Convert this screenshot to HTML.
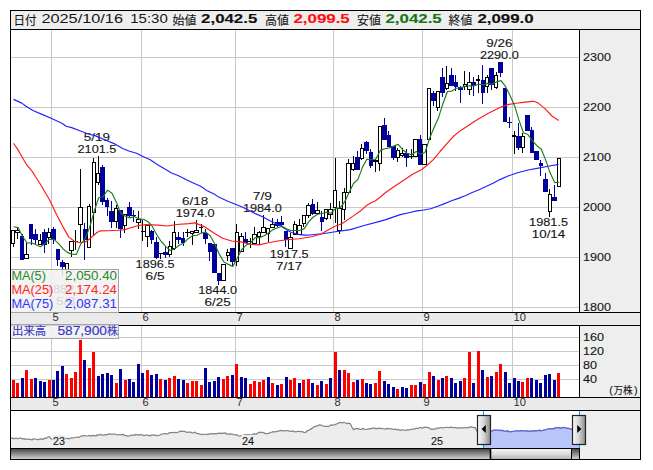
<!DOCTYPE html>
<html><head><meta charset="utf-8"><title>chart</title><style>html,body{margin:0;padding:0;background:#fff}svg{display:block}</style></head><body>
<svg width="653" height="470" viewBox="0 0 653 470" font-family="'Liberation Sans', sans-serif">
<rect x="0" y="0" width="653" height="470" fill="#fff"/>
<rect x="10" y="10" width="631" height="20" fill="#eeeeee"/>
<rect x="580" y="30" width="60" height="430" fill="#eeeeee"/>
<rect x="10" y="312" width="631" height="14" fill="#eaeaea"/>
<rect x="10" y="397" width="631" height="14" fill="#eaeaea"/>
<path d="M11 57.5H579M11 107.5H579M11 157.5H579M11 207.5H579M11 257.5H579M11 307.5H579M11 337.5H579M11 351.5H579M11 365.5H579M11 379.5H579M51.5 30V312M51.5 326V397M141.5 30V312M141.5 326V397M235.5 30V312M235.5 326V397M333.5 30V312M333.5 326V397M422.5 30V312M422.5 326V397M512.5 30V312M512.5 326V397" stroke="#c9c9c9" stroke-width="1" fill="none" shape-rendering="crispEdges"/>
<g shape-rendering="crispEdges" fill="none" stroke-width="1">
<path d="M13.5 244V247M17.5 227V230M17.5 233V239M26.5 242V254M40.5 234V240M48.5 228V232M48.5 238V244M66.5 270V281M71.5 251V257M75.5 230V250M80.5 169V207M80.5 225V242M89.5 204V206M93.5 158V162M93.5 213V235M98.5 156V173M98.5 183V185M116.5 205V208M116.5 222V228M124.5 226V233M138.5 211V219M138.5 223V229M142.5 220V241M147.5 224V225M147.5 237V247M160.5 253V259M169.5 241V246M169.5 255V257M174.5 221V232M174.5 249V250M187.5 229V237M192.5 234V245M196.5 220V230M201.5 224V233M227.5 249V252M227.5 256V261M236.5 224V232M236.5 262V266M241.5 233V236M250.5 238V248M254.5 227V234M259.5 231V232M259.5 237V245M263.5 215V227M268.5 234V242M272.5 218V224M290.5 233V237M294.5 221V224M299.5 219V225M303.5 224V227M308.5 203V205M308.5 216V218M317.5 202V210M326.5 219V220M330.5 203V209M330.5 215V219M335.5 158V190M335.5 208V223M339.5 201V208M339.5 231V234M344.5 188V192M344.5 210V220M348.5 159V163M353.5 156V163M353.5 170V171M361.5 144V148M361.5 159V160M375.5 159V160M375.5 162V172M379.5 164V171M397.5 148V150M397.5 158V162M402.5 148V153M402.5 156V157M411.5 149V159M437.5 108V111M446.5 66V83M446.5 89V90M464.5 71V84M464.5 87V90M469.5 72V82M469.5 90V95M478.5 75V79M478.5 81V93M487.5 75V77M487.5 87V93M496.5 72V75M496.5 88V89M514.5 131V135M514.5 137V154M522.5 133V136M522.5 148V153M549.5 189V194M549.5 212V217" stroke="#000"/>
<path d="M22.5 234V236M31.5 239V245M35.5 229V234M35.5 240V244M44.5 229V232M44.5 245V253M53.5 227V229M53.5 240V244M57.5 260V266M62.5 260V262M62.5 267V276M84.5 223V229M84.5 240V260M102.5 165V167M102.5 202V205M107.5 198V200M107.5 207V216M111.5 201V211M111.5 222V228M120.5 229V238M129.5 202V207M129.5 216V217M133.5 210V222M151.5 230V231M151.5 240V244M156.5 237V242M156.5 258V259M165.5 247V252M165.5 255V258M178.5 232V237M178.5 240V244M183.5 232V238M183.5 243V246M205.5 229V233M205.5 239V244M209.5 252V261M218.5 281V285M232.5 262V266M245.5 232V239M277.5 219V222M277.5 226V227M281.5 216V222M281.5 225V227M285.5 240V247M312.5 199V204M312.5 214V215M321.5 211V217M321.5 222V231M357.5 151V157M366.5 141V142M366.5 151V154M370.5 149V152M370.5 166V168M384.5 118V125M388.5 131V135M393.5 158V160M406.5 149V153M406.5 158V167M420.5 135V139M433.5 91V93M433.5 101V106M442.5 68V77M442.5 93V97M451.5 68V75M455.5 75V82M455.5 87V91M460.5 86V87M460.5 90V103M473.5 77V82M473.5 86V96M482.5 65V80M482.5 93V104M491.5 85V90M500.5 73V77M509.5 117V128M518.5 123V136M518.5 148V150M531.5 127V130M540.5 160V163M540.5 166V176M545.5 173V179M554.5 185V197" stroke="#00009a"/>
<path d="M11.5 230.5H14.5V243.5H11.5zM15.5 230.5H19.5V232.5H15.5zM24.5 254.5H28.5V258.5H24.5zM38.5 240.5H41.5V244.5H38.5zM47.5 232.5H50.5V237.5H47.5zM65.5 263.5H68.5V269.5H65.5zM69.5 241.5H73.5V250.5H69.5zM78.5 207.5H82.5V224.5H78.5zM87.5 206.5H90.5V247.5H87.5zM92.5 162.5H95.5V212.5H92.5zM96.5 173.5H99.5V182.5H96.5zM114.5 208.5H117.5V221.5H114.5zM123.5 214.5H126.5V225.5H123.5zM136.5 219.5H140.5V222.5H136.5zM145.5 225.5H149.5V236.5H145.5zM168.5 246.5H171.5V254.5H168.5zM172.5 232.5H175.5V248.5H172.5zM190.5 231.5H193.5V233.5H190.5zM194.5 230.5H198.5V232.5H194.5zM221.5 264.5H225.5V280.5H221.5zM226.5 252.5H229.5V255.5H226.5zM235.5 232.5H238.5V261.5H235.5zM239.5 236.5H243.5V251.5H239.5zM252.5 234.5H256.5V243.5H252.5zM257.5 232.5H260.5V236.5H257.5zM261.5 227.5H265.5V232.5H261.5zM266.5 228.5H269.5V233.5H266.5zM270.5 224.5H274.5V227.5H270.5zM288.5 237.5H292.5V248.5H288.5zM293.5 224.5H296.5V234.5H293.5zM297.5 225.5H301.5V234.5H297.5zM302.5 215.5H305.5V223.5H302.5zM306.5 205.5H310.5V215.5H306.5zM315.5 210.5H319.5V213.5H315.5zM324.5 209.5H327.5V218.5H324.5zM328.5 209.5H332.5V214.5H328.5zM333.5 190.5H336.5V207.5H333.5zM337.5 208.5H341.5V230.5H337.5zM342.5 192.5H345.5V209.5H342.5zM346.5 163.5H350.5V192.5H346.5zM351.5 163.5H354.5V169.5H351.5zM360.5 148.5H363.5V158.5H360.5zM373.5 160.5H377.5V161.5H373.5zM378.5 126.5H381.5V163.5H378.5zM396.5 150.5H399.5V157.5H396.5zM400.5 153.5H403.5V155.5H400.5zM413.5 139.5H417.5V156.5H413.5zM422.5 144.5H426.5V164.5H422.5zM427.5 88.5H430.5V139.5H427.5zM436.5 91.5H439.5V107.5H436.5zM445.5 83.5H448.5V88.5H445.5zM463.5 84.5H466.5V86.5H463.5zM467.5 82.5H471.5V89.5H467.5zM476.5 79.5H479.5V80.5H476.5zM485.5 77.5H488.5V86.5H485.5zM494.5 75.5H497.5V87.5H494.5zM512.5 135.5H515.5V136.5H512.5zM521.5 136.5H524.5V147.5H521.5zM548.5 194.5H551.5V211.5H548.5zM557.5 158.5H560.5V186.5H557.5z" stroke="#000" fill="#fff"/>
<path d="M74 241.5H78M141 231.5H145M159 253.5H163M185 232.5H190M199 227.5H203M248 241.5H252M409 156.5H413" stroke="#000"/>
<path d="M132 215.5H136M507 122.5H512" stroke="#00009a"/>
</g>
<path d="M20 236H24V260H20zM29 224H33V239H29zM33 234H38V240H33zM42 232H47V245H42zM51 229H56V240H51zM56 249H60V260H56zM60 262H65V267H60zM83 229H87V240H83zM100 167H105V202H100zM105 200H109V207H105zM109 211H114V222H109zM118 210H123V229H118zM127 207H132V216H127zM150 231H154V240H150zM154 242H159V258H154zM163 252H168V255H163zM176 237H181V240H176zM181 238H185V243H181zM203 233H208V239H203zM208 243H212V252H208zM212 244H217V273H212zM217 273H221V281H217zM230 248H235V262H230zM244 239H248V243H244zM275 222H279V226H275zM279 222H284V225H279zM284 231H288V240H284zM311 204H315V214H311zM320 217H324V222H320zM355 157H360V170H355zM364 142H369V151H364zM369 152H373V166H369zM382 125H387V140H382zM387 135H391V147H387zM391 146H396V158H391zM404 153H409V158H404zM418 139H422V165H418zM431 93H436V101H431zM440 77H445V93H440zM449 75H454V86H449zM454 82H458V87H454zM458 87H463V90H458zM472 82H476V86H472zM481 80H485V93H481zM489 68H494V85H489zM498 62H503V73H498zM503 88H507V122H503zM516 136H521V148H516zM525 115H530V131H525zM530 130H534V153H530zM534 151H539V160H534zM539 163H543V166H539zM543 179H548V192H543zM552 197H557V201H552z" fill="#00009a" shape-rendering="crispEdges"/>
<text x="83.8" y="141.1" font-size="11.5" fill="#151515" textLength="26.2" lengthAdjust="spacingAndGlyphs" stroke="#151515" stroke-width="0.12">5/19</text>
<text x="77.5" y="153.1" font-size="11.5" fill="#151515" textLength="38.9" lengthAdjust="spacingAndGlyphs" stroke="#151515" stroke-width="0.12">2101.5</text>
<text x="182.1" y="204.8" font-size="11.5" fill="#151515" textLength="26.2" lengthAdjust="spacingAndGlyphs" stroke="#151515" stroke-width="0.12">6/18</text>
<text x="175.8" y="216.8" font-size="11.5" fill="#151515" textLength="38.9" lengthAdjust="spacingAndGlyphs" stroke="#151515" stroke-width="0.12">1974.0</text>
<text x="252.8" y="199.8" font-size="11.5" fill="#151515" textLength="19.1" lengthAdjust="spacingAndGlyphs" stroke="#151515" stroke-width="0.12">7/9</text>
<text x="242.9" y="211.8" font-size="11.5" fill="#151515" textLength="38.9" lengthAdjust="spacingAndGlyphs" stroke="#151515" stroke-width="0.12">1984.0</text>
<text x="486.2" y="46.8" font-size="11.5" fill="#151515" textLength="26.2" lengthAdjust="spacingAndGlyphs" stroke="#151515" stroke-width="0.12">9/26</text>
<text x="479.9" y="58.8" font-size="11.5" fill="#151515" textLength="38.9" lengthAdjust="spacingAndGlyphs" stroke="#151515" stroke-width="0.12">2290.0</text>
<text x="135.6" y="268.1" font-size="11.5" fill="#151515" textLength="38.9" lengthAdjust="spacingAndGlyphs" stroke="#151515" stroke-width="0.12">1896.5</text>
<text x="145.5" y="280.1" font-size="11.5" fill="#151515" textLength="19.1" lengthAdjust="spacingAndGlyphs" stroke="#151515" stroke-width="0.12">6/5</text>
<text x="198.2" y="294.3" font-size="11.5" fill="#151515" textLength="38.9" lengthAdjust="spacingAndGlyphs" stroke="#151515" stroke-width="0.12">1844.0</text>
<text x="204.5" y="306.3" font-size="11.5" fill="#151515" textLength="26.2" lengthAdjust="spacingAndGlyphs" stroke="#151515" stroke-width="0.12">6/25</text>
<text x="269.7" y="257.6" font-size="11.5" fill="#151515" textLength="38.9" lengthAdjust="spacingAndGlyphs" stroke="#151515" stroke-width="0.12">1917.5</text>
<text x="276" y="269.6" font-size="11.5" fill="#151515" textLength="26.2" lengthAdjust="spacingAndGlyphs" stroke="#151515" stroke-width="0.12">7/17</text>
<text x="529.1" y="225.6" font-size="11.5" fill="#151515" textLength="38.9" lengthAdjust="spacingAndGlyphs" stroke="#151515" stroke-width="0.12">1981.5</text>
<text x="531.8" y="237.6" font-size="11.5" fill="#151515" textLength="33.4" lengthAdjust="spacingAndGlyphs" stroke="#151515" stroke-width="0.12">10/14</text>
<text x="46.2" y="292.9" font-size="11.5" fill="#151515" textLength="38.9" lengthAdjust="spacingAndGlyphs" stroke="#151515" stroke-width="0.12">1852.5</text>
<text x="56" y="304.9" font-size="11.5" fill="#151515" textLength="19.1" lengthAdjust="spacingAndGlyphs" stroke="#151515" stroke-width="0.12">5/8</text>
<path d="M13.5 99.4L21.8 103.1L26 106.3L32.9 110.5L42.6 114.6L52.2 118.8L61.9 123.2L66.1 126.2L71.6 127.6L79.9 130.8L88.2 134L95 135.6L106.1 140.2L115.7 144.4L122.7 148.5L129.6 151.3L136.5 153.3L143.4 156.8L150.3 159.8L157.2 164.4L164.1 168.6L171 172.7L178 175.5L186.9 180L193.8 183.2L200.7 186.3L207.7 191.1L214.6 194.3L218.7 197.1L228.4 201.5L235.3 204.2L242.2 207L249.1 210.5L256 213.9L263 217L269.9 220.8L280.3 225.8L286.9 230L291.4 232.5L299.7 234.6L305 235.1L310 235L316 234.3L322.7 233.8L333.7 232L350.3 229.6L364.1 225.5L378.8 221.6L385 219.9L400.3 214.6L410 212.5L416.9 210.9L423.8 210L430.7 208.7L437.7 206.3L444.6 203.6L451.5 200.8L458.4 198.4L465.3 195.7L472.2 192.5L479.1 189.7L486 186.5L493 183.2L499.9 179.6L508 176L517.6 172.8L528 170L538.4 168.1L548 166.2L558.5 164.4" fill="none" stroke="#2020ff" stroke-width="1.15" stroke-linejoin="round"/>
<path d="M13.5 143.2L17.7 149.4L21.8 156.5L26 163.8L32.2 171.4L35.7 177L39.8 183.2L44.6 191.5L49.5 199.8L52.9 206.7L56.4 214.3L63.3 227.4L68.8 237.1L74.4 241.3L79.9 242.7L85.4 242L91 237.8L96.9 232.5L100.1 230.9L108.4 230.7L118 230.3L125 229.6L129 228.2L137.4 225.7L145.9 224.6L158.1 225.1L167.3 226L176.5 224.5L188.8 223.6L195 222.9L204.2 226.6L213.4 232.7L222.6 238.2L231.8 241L240.9 241.9L250.1 244.3L259.3 244.9L268.5 242.8L277.7 241L286.9 239.7L299.1 238.8L311.4 236.7L320.6 234.2L329.8 229L335 226.3L341.9 223.7L352.3 216.6L360.4 211L365.9 206.1L370.9 202.7L375.2 201L380 197.2L385 193L394.2 186.5L403.4 180.4L412.6 174.2L421.8 169.5L427.4 165L433.6 159.4L440 151.5L446.9 143.6L453.8 136L460.7 130.4L467.7 126L474.6 121.2L481.5 117.2L488.4 113.3L495.3 109.8L502.2 106.6L509.1 104.4L516 103.2L523 102.4L529.9 101.6L533.5 101.3L536.6 102.3L538 102.9L544.9 108.6L551.9 116L558.7 120.6" fill="none" stroke="#ff1a1a" stroke-width="1.15" stroke-linejoin="round"/>
<path d="M13.6 226.7L18.1 227.6L22.6 236.5L27.1 243L31.6 242.8L36 244.7L40.5 246.7L45 243.6L49.4 239.2L53.9 239.4L58.4 243.4L62.9 248.7L67.3 252.4L71.8 254.1L76.3 254.5L80.7 244.1L85.2 238.6L89.7 227.1L94.2 211.3L98.6 197.8L103.1 196.7L107.6 190.1L112 193.3L116.5 202.5L121 213.6L125.5 216.2L129.9 217.9L134.4 216.6L138.9 218.9L143.3 219.3L147.8 221.5L152.3 226.4L156.8 234.8L161.2 241.5L165.7 246.3L170.2 250.5L174.6 248.9L179.1 245.3L183.6 243.3L188.1 238.7L192.5 235.6L197 235.3L201.5 232.9L205.9 232.1L210.4 236L214.9 244.3L219.4 254.4L223.8 261.8L228.3 264.4L232.8 266.4L237.2 258.3L241.7 249.5L246.2 245.1L250.7 242.9L255.1 237.6L259.6 237.6L264.1 235.8L268.5 233L273 229.6L277.5 227.8L282 226.3L286.4 228.8L290.9 230.5L295.4 230.5L299.8 230.5L304.3 228.6L308.8 221.6L313.3 217L317.7 214.2L322.2 213.5L326.7 212.2L331.1 213.1L335.6 208.4L340.1 207.9L344.6 201.9L349 192.8L353.5 183.5L358 179.4L362.4 167.4L366.9 159.2L371.4 159.7L375.9 159L380.3 150.4L384.8 148.7L389.3 147.9L393.7 146.1L398.2 144.3L402.7 149.7L407.1 153.2L411.6 155L416.1 151.5L420.6 154.3L425 152.5L429.5 138.6L434 127.7L438.4 118.1L442.9 103.7L447.4 91.5L451.9 91.1L456.3 88.2L460.8 87.8L465.3 86.1L469.7 85.8L474.2 85.8L478.7 84.2L483.2 84.8L487.6 83.4L492.1 84L496.6 81.9L501 80.6L505.5 86.4L510 95.4L514.5 105.4L518.9 119.9L523.4 132.7L527.9 134.5L532.3 140.7L536.8 145.7L541.3 149.3L545.8 160.4L550.2 173.1L554.7 182.6L559.2 182.2" fill="none" stroke="#1c7c1c" stroke-width="1.15" stroke-linejoin="round"/>
<text x="583" y="60.5" font-size="11.5" fill="#151515" textLength="28" lengthAdjust="spacingAndGlyphs" stroke="#151515" stroke-width="0.12">2300</text>
<text x="583" y="110.5" font-size="11.5" fill="#151515" textLength="28" lengthAdjust="spacingAndGlyphs" stroke="#151515" stroke-width="0.12">2200</text>
<text x="583" y="160.5" font-size="11.5" fill="#151515" textLength="28" lengthAdjust="spacingAndGlyphs" stroke="#151515" stroke-width="0.12">2100</text>
<text x="583" y="210.5" font-size="11.5" fill="#151515" textLength="28" lengthAdjust="spacingAndGlyphs" stroke="#151515" stroke-width="0.12">2000</text>
<text x="583" y="260.5" font-size="11.5" fill="#151515" textLength="28" lengthAdjust="spacingAndGlyphs" stroke="#151515" stroke-width="0.12">1900</text>
<text x="583" y="310.5" font-size="11.5" fill="#151515" textLength="28" lengthAdjust="spacingAndGlyphs" stroke="#151515" stroke-width="0.12">1800</text>
<text x="52.5" y="321" font-size="10.5" fill="#2a2a2a" textLength="6.2" lengthAdjust="spacingAndGlyphs">5</text>
<text x="142.5" y="321" font-size="10.5" fill="#2a2a2a" textLength="6.2" lengthAdjust="spacingAndGlyphs">6</text>
<text x="236.5" y="321" font-size="10.5" fill="#2a2a2a" textLength="6.2" lengthAdjust="spacingAndGlyphs">7</text>
<text x="334.5" y="321" font-size="10.5" fill="#2a2a2a" textLength="6.2" lengthAdjust="spacingAndGlyphs">8</text>
<text x="423.5" y="321" font-size="10.5" fill="#2a2a2a" textLength="6.2" lengthAdjust="spacingAndGlyphs">9</text>
<text x="513.5" y="321" font-size="10.5" fill="#2a2a2a" textLength="12.4" lengthAdjust="spacingAndGlyphs">10</text>
<text x="52.5" y="406" font-size="10.5" fill="#2a2a2a" textLength="6.2" lengthAdjust="spacingAndGlyphs">5</text>
<text x="142.5" y="406" font-size="10.5" fill="#2a2a2a" textLength="6.2" lengthAdjust="spacingAndGlyphs">6</text>
<text x="236.5" y="406" font-size="10.5" fill="#2a2a2a" textLength="6.2" lengthAdjust="spacingAndGlyphs">7</text>
<text x="334.5" y="406" font-size="10.5" fill="#2a2a2a" textLength="6.2" lengthAdjust="spacingAndGlyphs">8</text>
<text x="423.5" y="406" font-size="10.5" fill="#2a2a2a" textLength="6.2" lengthAdjust="spacingAndGlyphs">9</text>
<text x="513.5" y="406" font-size="10.5" fill="#2a2a2a" textLength="12.4" lengthAdjust="spacingAndGlyphs">10</text>
<g shape-rendering="crispEdges">
<path d="M12 380h3V397h-3zM16 383h3V397h-3zM25 370h3V397h-3zM30 379h3V397h-3zM48 380h3V397h-3zM65 374h3V397h-3zM70 378h3V397h-3zM74 372h3V397h-3zM79 340h3V397h-3zM88 368h3V397h-3zM92 352h3V397h-3zM115 383h3V397h-3zM124 380h3V397h-3zM146 370h3V397h-3zM159 379h3V397h-3zM168 378h3V397h-3zM173 376h3V397h-3zM186 383h3V397h-3zM191 381h3V397h-3zM195 381h3V397h-3zM200 385h3V397h-3zM222 379h3V397h-3zM226 376h3V397h-3zM235 364h3V397h-3zM249 384h3V397h-3zM253 381h3V397h-3zM258 382h3V397h-3zM262 380h3V397h-3zM271 383h3V397h-3zM280 384h3V397h-3zM289 380h3V397h-3zM293 378h3V397h-3zM302 380h3V397h-3zM307 379h3V397h-3zM316 385h3V397h-3zM325 384h3V397h-3zM334 352h3V397h-3zM343 370h3V397h-3zM347 373h3V397h-3zM352 382h3V397h-3zM361 379h3V397h-3zM374 383h3V397h-3zM378 371h3V397h-3zM396 389h3V397h-3zM410 385h3V397h-3zM414 385h3V397h-3zM423 384h3V397h-3zM428 372h3V397h-3zM437 380h3V397h-3zM445 376h3V397h-3zM463 378h3V397h-3zM468 352h3V397h-3zM477 351h3V397h-3zM486 377h3V397h-3zM495 372h3V397h-3zM499 364h3V397h-3zM521 382h3V397h-3zM526 378h3V397h-3zM557 373h3V397h-3z" fill="#ff0000"/>
<path d="M21 378h3V397h-3zM34 378h3V397h-3zM39 381h3V397h-3zM43 382h3V397h-3zM52 380h3V397h-3zM56 371h3V397h-3zM61 366h3V397h-3zM83 360h3V397h-3zM97 376h3V397h-3zM101 374h3V397h-3zM106 373h3V397h-3zM110 375h3V397h-3zM119 369h3V397h-3zM128 379h3V397h-3zM132 382h3V397h-3zM137 364h3V397h-3zM141 373h3V397h-3zM150 375h3V397h-3zM155 374h3V397h-3zM164 380h3V397h-3zM177 379h3V397h-3zM182 380h3V397h-3zM204 368h3V397h-3zM208 382h3V397h-3zM213 381h3V397h-3zM217 377h3V397h-3zM231 375h3V397h-3zM240 377h3V397h-3zM244 378h3V397h-3zM267 377h3V397h-3zM276 385h3V397h-3zM285 377h3V397h-3zM298 383h3V397h-3zM311 383h3V397h-3zM320 381h3V397h-3zM329 378h3V397h-3zM338 370h3V397h-3zM356 380h3V397h-3zM365 383h3V397h-3zM369 384h3V397h-3zM383 381h3V397h-3zM387 384h3V397h-3zM392 387h3V397h-3zM401 387h3V397h-3zM405 388h3V397h-3zM419 382h3V397h-3zM432 376h3V397h-3zM441 378h3V397h-3zM450 378h3V397h-3zM454 383h3V397h-3zM459 381h3V397h-3zM472 383h3V397h-3zM481 370h3V397h-3zM490 376h3V397h-3zM504 372h3V397h-3zM508 383h3V397h-3zM513 378h3V397h-3zM517 381h3V397h-3zM530 378h3V397h-3zM535 380h3V397h-3zM539 383h3V397h-3zM544 375h3V397h-3zM548 374h3V397h-3zM553 380h3V397h-3z" fill="#00009a"/>
</g>
<text x="583" y="340.5" font-size="11.5" fill="#151515" textLength="21" lengthAdjust="spacingAndGlyphs" stroke="#151515" stroke-width="0.12">160</text>
<text x="583" y="354.5" font-size="11.5" fill="#151515" textLength="21" lengthAdjust="spacingAndGlyphs" stroke="#151515" stroke-width="0.12">120</text>
<text x="583" y="368.5" font-size="11.5" fill="#151515" textLength="14" lengthAdjust="spacingAndGlyphs" stroke="#151515" stroke-width="0.12">80</text>
<text x="583" y="382.5" font-size="11.5" fill="#151515" textLength="14" lengthAdjust="spacingAndGlyphs" stroke="#151515" stroke-width="0.12">40</text>
<text x="609.3" y="393.6" font-size="10.5" fill="#151515" textLength="3.6" lengthAdjust="spacingAndGlyphs" stroke="#151515" stroke-width="0.1">(</text>
<text x="613.4" y="394" font-size="9.7" fill="#151515" textLength="19.3" lengthAdjust="spacingAndGlyphs" stroke="#151515" stroke-width="0.1" font-family="'Liberation Sans', 'Noto Sans CJK JP', sans-serif">万株</text>
<text x="634" y="393.6" font-size="10.5" fill="#151515" textLength="3.6" lengthAdjust="spacingAndGlyphs" stroke="#151515" stroke-width="0.1">)</text>
<path d="M11.1 438.5L12.7 438.2L14.3 438.8L15.9 438L17.5 438.6L19.1 438.4L20.7 438L22.3 438.9L23.9 438.6L25.5 439.4L27.1 439.1L28.7 439.1L30.3 439.4L31.9 439.9L33.5 438.9L35.1 439L36.7 439.4L38.3 439.7L39.9 439.1L41.5 438.8L43.1 439.4L44.7 438.1L46.3 438.4L47.9 436.9L49.5 436.8L51.1 438.9L52.7 439.1L54.3 439.7L55.9 438.8L57.5 439.3L59.1 439.3L60.7 438.9L62.3 439.1L63.9 438.4L65.5 438.4L67.1 438.4L68.7 438.8L70.3 438.2L71.9 437.8L73.5 437.9L75.1 437.5L76.7 437L78.3 437.3L79.9 436.8L81.5 435.8L83.1 435.9L84.7 435.5L86.3 436L87.9 435.9L89.5 435.4L91.1 436.3L92.7 435.3L94.3 435.6L95.9 435.9L97.5 434.9L99.1 435.2L100.7 434.4L102.3 435L103.9 435L105.5 434.6L107.1 434.8L108.7 433.9L110.3 434.2L111.9 434L113.5 434L115.1 434L116.7 434.7L118.3 435L119.9 434.5L121.5 434.9L123.1 434.4L124.7 435.4L126.3 435.6L127.9 436.2L129.5 435.9L131.1 435.1L132.7 435.1L134.3 435.4L135.9 434.4L137.5 435L139.1 434.7L140.7 434.8L142.3 434.8L143.9 435.8L145.5 435.1L147.1 435.2L148.7 435.3L150.3 435.9L151.9 434.8L153.5 435.2L155.1 435.2L156.7 435.6L158.3 435.4L159.9 435.1L161.5 434L163.1 433.9L164.7 433.5L166.3 433.9L167.9 433.8L169.5 432.6L171.1 432.5L172.7 432.5L174.3 432.4L175.9 432.6L177.5 432.5L179.1 431.7L180.7 431.1L182.3 431.3L183.9 431.3L185.5 431.7L187.1 432.4L188.7 432.2L190.3 432.2L191.9 432.6L193.5 432.8L195.1 432.2L196.7 433.5L198.3 433.6L199.9 434.1L201.5 434.4L203.1 434.3L204.7 434.5L206.3 434L207.9 434.6L209.5 433.8L211.1 433.7L212.7 433.8L214.3 433.6L215.9 433.8L217.5 433.3L219.1 433.2L220.7 433.3L222.3 433.1L223.9 433.4L225.5 432.9L227.1 434.2L228.7 434.2L230.3 433.8L231.9 434.2L233.5 434.6L235.1 434.9L236.7 434.7L238.3 435.8L239.9 436.1L241.5 435.5L243.1 435.4L244.7 434.8L246.3 434.7L247.9 434.9L249.5 434.7L251.1 435.3L252.7 434.3L254.3 433.7L255.9 434.4L257.5 433.3L259.1 432.2L260.7 432.7L262.3 432.2L263.9 432.9L265.5 433.6L267.1 433.6L268.7 433.4L270.3 432.5L271.9 432.2L273.5 431.6L275.1 432L276.7 431.3L278.3 431.3L279.9 430.6L281.5 430.3L283.1 430.9L284.7 430.9L286.3 430.6L287.9 430.7L289.5 431.1L291.1 431.3L292.7 430.9L294.3 431.7L295.9 431.8L297.5 431.4L299.1 431.4L300.7 431.7L302.3 431.7L303.9 432.3L305.5 432.5L307.1 430.8L308.7 430.3L310.3 429.4L311.9 428.4L313.5 427.1L315.1 426.4L316.7 425.9L318.3 425.3L319.9 424.8L321.5 425.3L323.1 426L324.7 426.4L326.3 426.3L327.9 426.3L329.5 426.1L331.1 424.8L332.7 425.1L334.3 424.9L335.9 424.2L337.5 423.6L339.1 422.8L340.7 422.3L342.3 423L343.9 422.3L345.5 423L347.1 423.6L348.7 423.2L350.3 423.7L351.9 427.1L353.5 429.7L355.1 428.9L356.7 428.7L358.3 428.6L359.9 429.5L361.5 429.3L363.1 428.4L364.7 429.3L366.3 429.5L367.9 429.1L369.5 428.7L371.1 428.8L372.7 428.1L374.3 427.8L375.9 428.9L377.5 428.3L379.1 428.1L380.7 428.7L382.3 428.3L383.9 429L385.5 429.1L387.1 428.4L388.7 428.6L390.3 428.9L391.9 428.9L393.5 429.5L395.1 429.2L396.7 429.6L398.3 429.3L399.9 430.4L401.5 429.8L403.1 430L404.7 430.1L406.3 430.3L407.9 429.6L409.5 430L411.1 429.3L412.7 429.2L414.3 429.1L415.9 428.2L417.5 428.5L419.1 427.9L420.7 427.5L422.3 428.3L423.9 427.2L425.5 427.3L427.1 427.4L428.7 427.7L430.3 428.8L431.9 429.4L433.5 429.1L435.1 429.2L436.7 428L438.3 428.4L439.9 427.7L441.5 427.6L443.1 428L444.7 427.5L446.3 427.4L447.9 427.5L449.5 427.6L451.1 427.1L452.7 427.5L454.3 427.6L455.9 427.7L457.5 428.1L459.1 427.9L460.7 427.8L462.3 427.6L463.9 428L465.5 427.5L467.1 427.6L468.7 427.6L470.3 426.7L471.9 427.1L473.5 427.6L475.1 427.4L476.7 430.9L478.3 431.5L479.9 431.9L481.5 431.4L483.1 431.7L483.5 432L483.5 448L11 448z" fill="#ededed"/>
<path d="M11.1 438.5L12.7 438.2L14.3 438.8L15.9 438L17.5 438.6L19.1 438.4L20.7 438L22.3 438.9L23.9 438.6L25.5 439.4L27.1 439.1L28.7 439.1L30.3 439.4L31.9 439.9L33.5 438.9L35.1 439L36.7 439.4L38.3 439.7L39.9 439.1L41.5 438.8L43.1 439.4L44.7 438.1L46.3 438.4L47.9 436.9L49.5 436.8L51.1 438.9L52.7 439.1L54.3 439.7L55.9 438.8L57.5 439.3L59.1 439.3L60.7 438.9L62.3 439.1L63.9 438.4L65.5 438.4L67.1 438.4L68.7 438.8L70.3 438.2L71.9 437.8L73.5 437.9L75.1 437.5L76.7 437L78.3 437.3L79.9 436.8L81.5 435.8L83.1 435.9L84.7 435.5L86.3 436L87.9 435.9L89.5 435.4L91.1 436.3L92.7 435.3L94.3 435.6L95.9 435.9L97.5 434.9L99.1 435.2L100.7 434.4L102.3 435L103.9 435L105.5 434.6L107.1 434.8L108.7 433.9L110.3 434.2L111.9 434L113.5 434L115.1 434L116.7 434.7L118.3 435L119.9 434.5L121.5 434.9L123.1 434.4L124.7 435.4L126.3 435.6L127.9 436.2L129.5 435.9L131.1 435.1L132.7 435.1L134.3 435.4L135.9 434.4L137.5 435L139.1 434.7L140.7 434.8L142.3 434.8L143.9 435.8L145.5 435.1L147.1 435.2L148.7 435.3L150.3 435.9L151.9 434.8L153.5 435.2L155.1 435.2L156.7 435.6L158.3 435.4L159.9 435.1L161.5 434L163.1 433.9L164.7 433.5L166.3 433.9L167.9 433.8L169.5 432.6L171.1 432.5L172.7 432.5L174.3 432.4L175.9 432.6L177.5 432.5L179.1 431.7L180.7 431.1L182.3 431.3L183.9 431.3L185.5 431.7L187.1 432.4L188.7 432.2L190.3 432.2L191.9 432.6L193.5 432.8L195.1 432.2L196.7 433.5L198.3 433.6L199.9 434.1L201.5 434.4L203.1 434.3L204.7 434.5L206.3 434L207.9 434.6L209.5 433.8L211.1 433.7L212.7 433.8L214.3 433.6L215.9 433.8L217.5 433.3L219.1 433.2L220.7 433.3L222.3 433.1L223.9 433.4L225.5 432.9L227.1 434.2L228.7 434.2L230.3 433.8L231.9 434.2L233.5 434.6L235.1 434.9L236.7 434.7L238.3 435.8L239.9 436.1L241.5 435.5L243.1 435.4L244.7 434.8L246.3 434.7L247.9 434.9L249.5 434.7L251.1 435.3L252.7 434.3L254.3 433.7L255.9 434.4L257.5 433.3L259.1 432.2L260.7 432.7L262.3 432.2L263.9 432.9L265.5 433.6L267.1 433.6L268.7 433.4L270.3 432.5L271.9 432.2L273.5 431.6L275.1 432L276.7 431.3L278.3 431.3L279.9 430.6L281.5 430.3L283.1 430.9L284.7 430.9L286.3 430.6L287.9 430.7L289.5 431.1L291.1 431.3L292.7 430.9L294.3 431.7L295.9 431.8L297.5 431.4L299.1 431.4L300.7 431.7L302.3 431.7L303.9 432.3L305.5 432.5L307.1 430.8L308.7 430.3L310.3 429.4L311.9 428.4L313.5 427.1L315.1 426.4L316.7 425.9L318.3 425.3L319.9 424.8L321.5 425.3L323.1 426L324.7 426.4L326.3 426.3L327.9 426.3L329.5 426.1L331.1 424.8L332.7 425.1L334.3 424.9L335.9 424.2L337.5 423.6L339.1 422.8L340.7 422.3L342.3 423L343.9 422.3L345.5 423L347.1 423.6L348.7 423.2L350.3 423.7L351.9 427.1L353.5 429.7L355.1 428.9L356.7 428.7L358.3 428.6L359.9 429.5L361.5 429.3L363.1 428.4L364.7 429.3L366.3 429.5L367.9 429.1L369.5 428.7L371.1 428.8L372.7 428.1L374.3 427.8L375.9 428.9L377.5 428.3L379.1 428.1L380.7 428.7L382.3 428.3L383.9 429L385.5 429.1L387.1 428.4L388.7 428.6L390.3 428.9L391.9 428.9L393.5 429.5L395.1 429.2L396.7 429.6L398.3 429.3L399.9 430.4L401.5 429.8L403.1 430L404.7 430.1L406.3 430.3L407.9 429.6L409.5 430L411.1 429.3L412.7 429.2L414.3 429.1L415.9 428.2L417.5 428.5L419.1 427.9L420.7 427.5L422.3 428.3L423.9 427.2L425.5 427.3L427.1 427.4L428.7 427.7L430.3 428.8L431.9 429.4L433.5 429.1L435.1 429.2L436.7 428L438.3 428.4L439.9 427.7L441.5 427.6L443.1 428L444.7 427.5L446.3 427.4L447.9 427.5L449.5 427.6L451.1 427.1L452.7 427.5L454.3 427.6L455.9 427.7L457.5 428.1L459.1 427.9L460.7 427.8L462.3 427.6L463.9 428L465.5 427.5L467.1 427.6L468.7 427.6L470.3 426.7L471.9 427.1L473.5 427.6L475.1 427.4L476.7 430.9L478.3 431.5L479.9 431.9L481.5 431.4L483.1 431.7L483.5 432" fill="none" stroke="#858585" stroke-width="1.25" stroke-linejoin="round"/>
<path d="M483.5 432L485.1 431.9L486.7 432.1L488.3 431.7L489.9 431.6L491.5 431.2L493.1 430.3L494.7 430.2L496.3 429.9L497.9 430.4L499.5 430.2L501.1 430.5L502.7 430.5L504.3 431.1L505.9 431.2L507.5 430.8L509.1 431.6L510.7 431.7L512.3 431.4L513.9 431.3L515.5 430.9L517.1 430.8L518.7 431.1L520.3 430.7L521.9 430.8L523.5 430.9L525.1 430.7L526.7 431L528.3 431L529.9 431.3L531.5 430.9L533.1 431L534.7 430.8L536.3 430.8L537.9 430.6L539.5 430.3L541.1 430.7L542.7 430.4L544.3 430L545.9 429.6L547.5 429.1L549.1 428.8L550.7 428.8L552.3 428.8L553.9 428.7L555.5 427.6L557.1 427.9L558.7 427.5L560.3 428L561.9 428L563.5 427.4L565.1 427.6L566.7 428.3L568.3 428.1L569.9 429L571.5 429L573.1 428.9L574.7 429.3L576.3 429.4L577.9 429L579.5 429.2L579.5 448L483.5 448z" fill="#b9c6fa"/>
<path d="M483.5 432L485.1 431.9L486.7 432.1L488.3 431.7L489.9 431.6L491.5 431.2L493.1 430.3L494.7 430.2L496.3 429.9L497.9 430.4L499.5 430.2L501.1 430.5L502.7 430.5L504.3 431.1L505.9 431.2L507.5 430.8L509.1 431.6L510.7 431.7L512.3 431.4L513.9 431.3L515.5 430.9L517.1 430.8L518.7 431.1L520.3 430.7L521.9 430.8L523.5 430.9L525.1 430.7L526.7 431L528.3 431L529.9 431.3L531.5 430.9L533.1 431L534.7 430.8L536.3 430.8L537.9 430.6L539.5 430.3L541.1 430.7L542.7 430.4L544.3 430L545.9 429.6L547.5 429.1L549.1 428.8L550.7 428.8L552.3 428.8L553.9 428.7L555.5 427.6L557.1 427.9L558.7 427.5L560.3 428L561.9 428L563.5 427.4L565.1 427.6L566.7 428.3L568.3 428.1L569.9 429L571.5 429L573.1 428.9L574.7 429.3L576.3 429.4L577.9 429L579.5 429.2" fill="none" stroke="#6666c8" stroke-width="1.4" stroke-linejoin="round"/>
<rect x="52.5" y="435" width="13" height="11" fill="#ededed"/>
<text x="53" y="444.5" font-size="11" fill="#151515" textLength="12" lengthAdjust="spacingAndGlyphs" stroke="#151515" stroke-width="0.12">23</text>
<rect x="241.5" y="435" width="13" height="11" fill="#ededed"/>
<text x="242" y="444.5" font-size="11" fill="#151515" textLength="12" lengthAdjust="spacingAndGlyphs" stroke="#151515" stroke-width="0.12">24</text>
<rect x="430.5" y="435" width="13" height="11" fill="#ededed"/>
<text x="431" y="444.5" font-size="11" fill="#151515" textLength="12" lengthAdjust="spacingAndGlyphs" stroke="#151515" stroke-width="0.12">25</text>
<defs><linearGradient id="sd" x1="0" y1="0" x2="0" y2="1"><stop offset="0" stop-color="#484848"/><stop offset="0.5" stop-color="#8e8e8e"/><stop offset="1" stop-color="#d2d2d2"/></linearGradient><linearGradient id="sl" x1="0" y1="0" x2="0" y2="1"><stop offset="0" stop-color="#f6f6f6"/><stop offset="0.5" stop-color="#dcdcdc"/><stop offset="1" stop-color="#b0b0b0"/></linearGradient><linearGradient id="hd" x1="0" y1="0" x2="1" y2="0"><stop offset="0" stop-color="#fafafa"/><stop offset="0.45" stop-color="#d8d8d8"/><stop offset="1" stop-color="#8a8a8a"/></linearGradient></defs>
<rect x="11" y="449" width="569" height="10" fill="url(#sd)"/>
<rect x="490.5" y="448.5" width="81" height="11" fill="url(#sl)" stroke="#000" stroke-width="1"/>
<path d="M490.5 449V459" stroke="#000" stroke-width="1.6"/>
<path d="M483.5 411V448M579.5 411V448" stroke="#00a2e0" stroke-width="1" fill="none" shape-rendering="crispEdges"/>
<rect x="477.5" y="415.5" width="13" height="29" fill="url(#hd)" stroke="#222" stroke-width="1.2"/>
<path d="M481.6 429L485.8 425V433z" fill="#000"/>
<rect x="572.5" y="415.5" width="13" height="29" fill="url(#hd)" stroke="#222" stroke-width="1.2"/>
<path d="M581.4 429L577.2 425V433z" fill="#000"/>
<path d="M10 10.5H641M10 29.5H641M10 312.5H641M10 325.5H641M10 397.5H641M10 410.5H641M10 448.5H580M10 459.5H641M10.5 10V460M640.5 10V460M579.5 30V312M579.5 326V397M579.5 449V459" stroke="#000" stroke-width="1" fill="none" shape-rendering="crispEdges"/>
<rect x="10.5" y="269.5" width="108" height="43" fill="#f1f1f1" fill-opacity="0.87" stroke="#a4a4a4" stroke-width="1"/>
<text x="11.4" y="279.6" font-size="12.5" fill="#2a8a2a" textLength="34.5" lengthAdjust="spacingAndGlyphs">MA(5)</text>
<text x="65" y="279.6" font-size="12.5" fill="#2a8a2a" textLength="52" lengthAdjust="spacingAndGlyphs">2,050.40</text>
<text x="11.4" y="293.7" font-size="12.5" fill="#ff2626" textLength="42" lengthAdjust="spacingAndGlyphs">MA(25)</text>
<text x="65" y="293.7" font-size="12.5" fill="#ff2626" textLength="52" lengthAdjust="spacingAndGlyphs">2,174.24</text>
<text x="11.4" y="307.5" font-size="12.5" fill="#3232ff" textLength="42" lengthAdjust="spacingAndGlyphs">MA(75)</text>
<text x="65" y="307.5" font-size="12.5" fill="#3232ff" textLength="52" lengthAdjust="spacingAndGlyphs">2,087.31</text>
<rect x="10.5" y="324.5" width="108" height="14" fill="#f1f1f1" fill-opacity="0.87" stroke="#a4a4a4" stroke-width="1"/>
<text x="12" y="334.6" font-size="11.5" fill="#3838c4" textLength="34.2" lengthAdjust="spacingAndGlyphs" stroke="#3838c4" stroke-width="0.15" font-family="'Liberation Sans', 'Noto Sans CJK JP', sans-serif">出来高</text>
<text x="57.4" y="334.7" font-size="12" fill="#3838c4" textLength="49.6" lengthAdjust="spacingAndGlyphs" stroke="#3838c4" stroke-width="0.15">587,900</text>
<text x="107" y="334.6" font-size="11.5" fill="#3838c4" textLength="11" lengthAdjust="spacingAndGlyphs" stroke="#3838c4" stroke-width="0.15" font-family="'Liberation Sans', 'Noto Sans CJK JP', sans-serif">株</text>
<path d="M10.5 260V345" stroke="#000" stroke-width="1" shape-rendering="crispEdges"/>
<text x="13.5" y="24.5" font-size="12" fill="#151515" textLength="23" lengthAdjust="spacingAndGlyphs" stroke="#151515" stroke-width="0.1" font-family="'Liberation Sans', 'Noto Sans CJK JP', sans-serif">日付</text>
<text x="41.4" y="23.4" font-size="13" fill="#151515" textLength="81.6" lengthAdjust="spacingAndGlyphs">2025/10/16</text>
<text x="130.2" y="23.4" font-size="13" fill="#151515" textLength="37.6" lengthAdjust="spacingAndGlyphs">15:30</text>
<text x="172.6" y="24.6" font-size="12" fill="#151515" textLength="24" lengthAdjust="spacingAndGlyphs" stroke="#151515" stroke-width="0.1" font-family="'Liberation Sans', 'Noto Sans CJK JP', sans-serif">始値</text>
<text x="201.1" y="23.4" font-size="13" fill="#111" textLength="56.2" lengthAdjust="spacingAndGlyphs" font-weight="bold" stroke="#111" stroke-width="0.12">2,042.5</text>
<text x="264.9" y="24.6" font-size="12" fill="#151515" textLength="24" lengthAdjust="spacingAndGlyphs" stroke="#151515" stroke-width="0.1" font-family="'Liberation Sans', 'Noto Sans CJK JP', sans-serif">高値</text>
<text x="293.5" y="23.4" font-size="13" fill="#ff1010" textLength="56.2" lengthAdjust="spacingAndGlyphs" font-weight="bold" stroke="#ff1010" stroke-width="0.12">2,099.5</text>
<text x="357.1" y="24.6" font-size="12" fill="#151515" textLength="24" lengthAdjust="spacingAndGlyphs" stroke="#151515" stroke-width="0.1" font-family="'Liberation Sans', 'Noto Sans CJK JP', sans-serif">安値</text>
<text x="385.5" y="23.4" font-size="13" fill="#157515" textLength="56.2" lengthAdjust="spacingAndGlyphs" font-weight="bold" stroke="#157515" stroke-width="0.12">2,042.5</text>
<text x="448.6" y="24.6" font-size="12" fill="#151515" textLength="24" lengthAdjust="spacingAndGlyphs" stroke="#151515" stroke-width="0.1" font-family="'Liberation Sans', 'Noto Sans CJK JP', sans-serif">終値</text>
<text x="477.4" y="23.4" font-size="13" fill="#111" textLength="56.2" lengthAdjust="spacingAndGlyphs" font-weight="bold" stroke="#111" stroke-width="0.12">2,099.0</text>
</svg>
</body></html>
